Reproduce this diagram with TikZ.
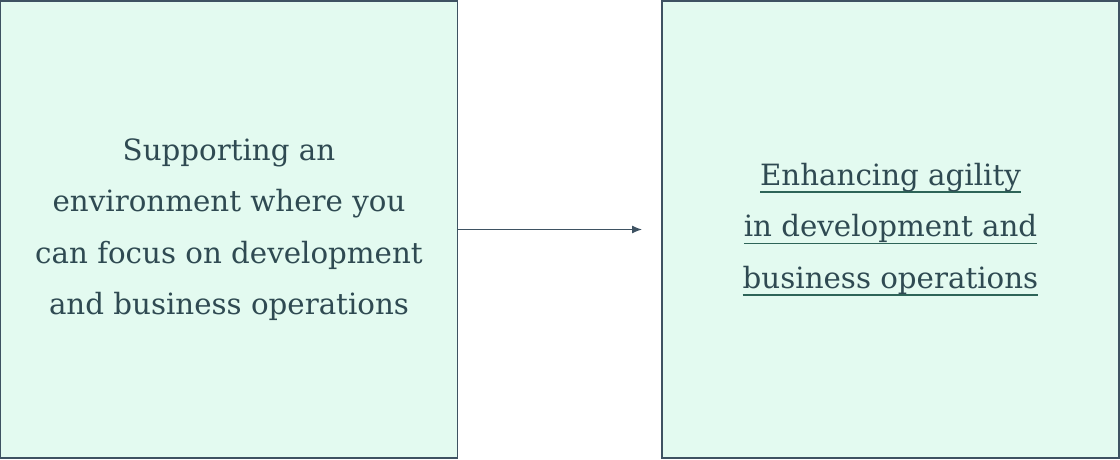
\documentclass[tikz,border=0pt]{standalone}
\usepackage{fontspec}
\setmainfont{DejaVu Serif}
\usetikzlibrary{arrows.meta}
\definecolor{boxfill}{HTML}{E3FAF0}
\definecolor{boxline}{HTML}{3E5262}
\definecolor{textcol}{HTML}{2F4A52}
\definecolor{ulcol}{HTML}{2E6458}
\newcommand{\ulline}[1]{\setbox0\hbox{#1}\rlap{\textcolor{ulcol}{\rule[-7.6pt]{\wd0}{1.7pt}}}\box0}
\tikzset{
  panel/.style={draw=boxline,line width=1.4pt,fill=boxfill,minimum width=457pt,
    minimum height=457pt,inner sep=0pt,align=center,text=textcol,
    font=\fontsize{29.3}{51.5}\selectfont}
}
\begin{document}
\begin{tikzpicture}[x=1pt,y=1pt]
        \useasboundingbox (0,0) rectangle (1120,459);
        \node[panel] (focus) at (229,229.5)
          {Supporting an\\environment where you\\can focus on development\\and business operations};
        \node[panel] (agile) at (890.5,229.5)
          {\ulline{Enhancing agility}\\\ulline{in development and}\\\ulline{business operations}};
        \coordinate (tip) at (642,229.5);
        \draw[boxline,line width=1.2pt,-{Latex[length=10pt,width=8pt]}] (focus.east) -- (tip);
      \end{tikzpicture}
\end{document}
